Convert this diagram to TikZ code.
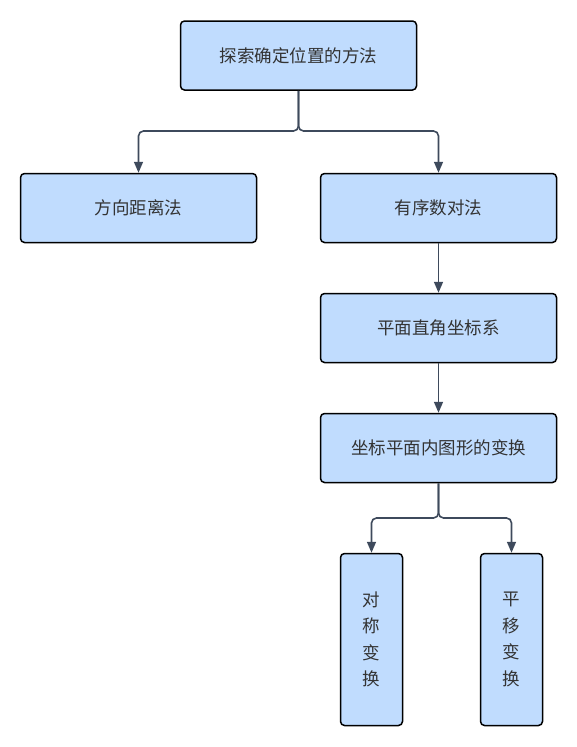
\documentclass[tikz,border=0pt]{standalone}
\usepackage{fontspec}
\setmainfont{Noto Sans CJK SC}
\usetikzlibrary{arrows.meta}

\definecolor{boxblue}{HTML}{C0DCFE}
\definecolor{linkgray}{HTML}{3E4A5C}
\definecolor{textgray}{HTML}{333333}

\begin{document}
\begin{tikzpicture}[x=1pt, y=-1pt,
		box/.style={draw=black, line width=1.5pt, rounded corners=4pt, fill=boxblue, text=textgray,
			minimum width=236pt, minimum height=69pt, font=\fontsize{17.5}{26.5}\selectfont},
		tallbox/.style={box, minimum width=62pt, minimum height=172pt, align=center},
		link/.style={draw=linkgray, line width=1.6pt, rounded corners=5pt, -{Triangle[width=9pt,length=11pt]}}]
		\useasboundingbox (0,0) rectangle (577,747);

		\node[box] (method) at (298.5,55.5) {探索确定位置的方法};
		\node[box] (dist) at (138.5,208) {方向距离法};
		\node[box] (pair) at (438.5,208) {有序数对法};
		\node[box] (axes) at (438.5,328) {平面直角坐标系};
		\node[box] (trans) at (438.5,448) {坐标平面内图形的变换};
		\node[tallbox] (sym) at (371.5,639.5) {对\\称\\变\\换};
		\node[tallbox] (shift) at (511.5,639.5) {平\\移\\变\\换};

		\coordinate (fork1) at (298.5,131);
		\coordinate (fork2) at (438.5,518);

		\draw[link] (method.south) -- (fork1) -| (dist.north);
		\draw[link] (method.south) -- (fork1) -| (pair.north);
		\draw[link] (pair) -- (axes);
		\draw[link] (axes) -- (trans);
		\draw[link] (trans.south) -- (fork2) -| (sym.north);
		\draw[link] (trans.south) -- (fork2) -| (shift.north);
	\end{tikzpicture}
\end{document}
